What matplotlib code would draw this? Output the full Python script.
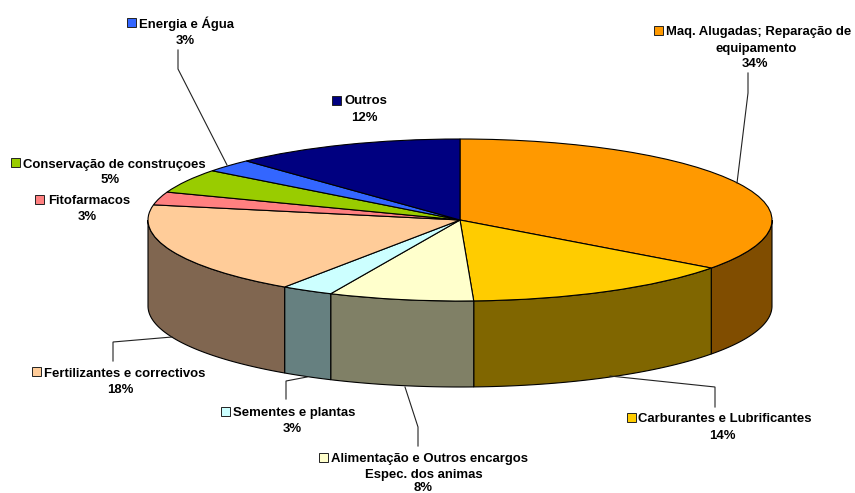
import matplotlib
matplotlib.use('Agg')
import matplotlib.pyplot as plt
from matplotlib.patches import Rectangle
import numpy as np

# shares, clockwise from 12 o'clock
categories = ['Maq. Alugadas; Reparação de equipamento', 'Carburantes e Lubrificantes',
              'Alimentação e Outros encargos Espec. dos animas', 'Sementes e plantas',
              'Fertilizantes e correctivos', 'Fitofarmacos', 'Conservação de construçoes',
              'Energia e Água', 'Outros']
shares = [35.1, 14.2, 7.5, 2.7, 18.5, 2.6, 4.8, 2.6, 12.0]
pct_labels = ['34%', '14%', '8%', '3%', '18%', '3%', '5%', '3%', '12%']
top_colors = ['#ff9900', '#ffcc00', '#ffffcc', '#ccffff', '#ffcc99', '#ff8080', '#99cc00', '#3366ff', '#000080']
wall_colors = ['#804d00', '#806600', '#808066', '#668080', '#806650', '#804040', '#4d6600', '#1a3380', '#000040']

W, H = 855, 493
CX, CY, RX, RY, DEPTH = 460, 220, 312, 81, 86

# label layout in pixels: key x, key y, then (text, x, baseline y, align) per line
label_layout = [
    (654, 26, [('Maq. Alugadas; Reparação de', 666, 35, 'left'), ('equipamento', 756, 52, 'center'), ('34%', 755, 67, 'center')]),
    (627, 413, [('Carburantes e Lubrificantes', 638, 422, 'left'), ('14%', 722, 439, 'center')]),
    (319, 453, [('Alimentação e Outros encargos', 331, 462, 'left'), ('Espec. dos animas', 424, 478, 'center'), ('8%', 423, 491, 'center')]),
    (221, 407, [('Sementes e plantas', 233, 416, 'left'), ('3%', 292, 432, 'center')]),
    (32, 367, [('Fertilizantes e correctivos', 44, 377, 'left'), ('18%', 120, 393, 'center')]),
    (35, 195, [('Fitofarmacos', 48, 204, 'left'), ('3%', 87, 220, 'center')]),
    (11, 158, [('Conservação de construçoes', 23, 168, 'left'), ('5%', 110, 183, 'center')]),
    (127, 18, [('Energia e Água', 139, 28, 'left'), ('3%', 185, 44, 'center')]),
    (332, 96, [('Outros', 344, 104, 'left'), ('12%', 364, 121, 'center')]),
]
leaders = [
    ([748, 748, 737], [73, 93, 183]),
    ([715, 715, 610], [407, 387, 376]),
    ([418, 418, 405], [446, 427, 387]),
    ([286, 286, 307], [399, 381, 377]),
    ([113, 113, 172], [361, 342, 337]),
    ([178, 178, 227], [50, 69, 165]),
]

fig = plt.figure(figsize=(W / 100, H / 100), dpi=100)

# pie axes covers just the top ellipse, so the circle gets squashed
ax = fig.add_axes([(CX - RX) / W, (H - CY - RY) / H, 2 * RX / W, 2 * RY / H])
wedges, _ = ax.pie(shares, colors=top_colors, startangle=90, counterclock=False, radius=1,
                   wedgeprops={'edgecolor': 'black', 'linewidth': 0.8})
ax.set_aspect('auto')
ax.set_xlim(-1, 1)
ax.set_ylim(-1, 1)
for w in wedges:
    w.set_clip_on(False)
    w.set_zorder(3)

# side walls, only the front half shows
edges = np.cumsum([0] + shares) / sum(shares) * 360
d = DEPTH / RY
for i in range(len(shares)):
    t0, t1 = max(edges[i], 90), min(edges[i + 1], 270)
    if t1 <= t0:
        continue
    t = np.radians(np.linspace(t0, t1, 60))
    x = np.sin(t)
    y = np.cos(t)
    px = np.concatenate([x, x[::-1]])
    py = np.concatenate([y, y[::-1] - d])
    ax.fill(px, py, facecolor=wall_colors[i], edgecolor='black', linewidth=0.8, clip_on=False, zorder=2)

# pixel overlay for labels and leader lines
ov = fig.add_axes([0, 0, 1, 1], zorder=5)
ov.set_xlim(0, W)
ov.set_ylim(H, 0)
ov.axis('off')
ov.patch.set_alpha(0)

for lx, ly in leaders:
    ov.plot(lx, ly, color='#222222', lw=0.8, solid_joinstyle='miter')

for i, (kx, ky, lines) in enumerate(label_layout):
    ov.add_patch(Rectangle((kx, ky), 9, 9, facecolor=top_colors[i], edgecolor='#222222', linewidth=0.7))
    for txt, x, y, ha in lines:
        ov.text(x, y, txt, ha=ha, va='baseline', fontsize=9.45, fontweight='bold',
                family='Liberation Sans', color='black', clip_on=False)

fig.savefig('out.png', dpi=100)
